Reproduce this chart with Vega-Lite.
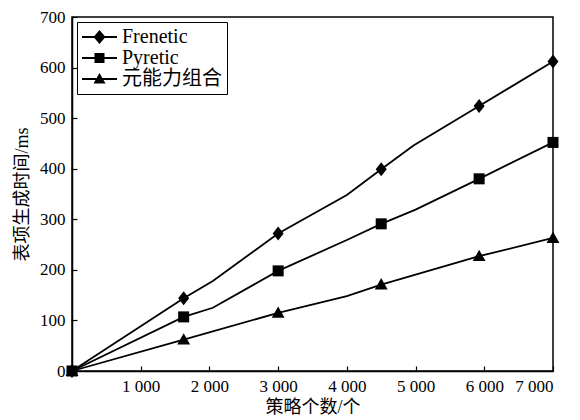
{
  "$schema": "https://vega.github.io/schema/vega-lite/v6.json",
  "width": 481,
  "height": 354,
  "autosize": "none",
  "padding": {"left": 72, "top": 17, "right": 27, "bottom": 49},
  "background": "white",
  "config": {
    "view": {"stroke": "black", "strokeWidth": 1.5},
    "font": "Liberation Serif, Noto Sans CJK SC",
    "axis": {
      "grid": false,
      "domainColor": "black",
      "domainWidth": 1.5,
      "tickColor": "black",
      "tickWidth": 1.2,
      "tickSize": -5,
      "labelColor": "black",
      "labelFont": "Liberation Serif",
      "labelFontSize": 17,
      "titleColor": "black",
      "titleFont": "Liberation Serif, Noto Sans CJK SC",
      "titleFontSize": 18,
      "titleFontWeight": "normal"
    }
  },
  "data": {
    "values": [
      {"s": "Frenetic", "x": 0, "y": 0, "m": true},
      {"s": "Frenetic", "x": 1625, "y": 144, "m": true},
      {"s": "Frenetic", "x": 2050, "y": 178, "m": false},
      {"s": "Frenetic", "x": 3000, "y": 272, "m": true},
      {"s": "Frenetic", "x": 4000, "y": 348, "m": false},
      {"s": "Frenetic", "x": 4500, "y": 399, "m": true},
      {"s": "Frenetic", "x": 4970, "y": 446, "m": false},
      {"s": "Frenetic", "x": 5925, "y": 524, "m": true},
      {"s": "Frenetic", "x": 7000, "y": 612, "m": true},
      {"s": "Pyretic", "x": 0, "y": 0, "m": true},
      {"s": "Pyretic", "x": 1625, "y": 107, "m": true},
      {"s": "Pyretic", "x": 2050, "y": 125, "m": false},
      {"s": "Pyretic", "x": 3000, "y": 198, "m": true},
      {"s": "Pyretic", "x": 4000, "y": 259, "m": false},
      {"s": "Pyretic", "x": 4500, "y": 291, "m": true},
      {"s": "Pyretic", "x": 5000, "y": 319, "m": false},
      {"s": "Pyretic", "x": 5925, "y": 380, "m": true},
      {"s": "Pyretic", "x": 7000, "y": 452, "m": true},
      {"s": "元能力组合", "x": 0, "y": 0, "m": true},
      {"s": "元能力组合", "x": 1625, "y": 62, "m": true},
      {"s": "元能力组合", "x": 3000, "y": 115, "m": true},
      {"s": "元能力组合", "x": 4000, "y": 148, "m": false},
      {"s": "元能力组合", "x": 4500, "y": 171, "m": true},
      {"s": "元能力组合", "x": 5925, "y": 227, "m": true},
      {"s": "元能力组合", "x": 7000, "y": 263, "m": true}
    ]
  },
  "encoding": {
    "x": {
      "field": "x", "type": "quantitative",
      "scale": {"domain": [0, 7000], "nice": false, "zero": true},
      "axis": {
        "title": "策略个数/个",
        "values": [0, 1000, 2000, 3000, 4000, 5000, 6000, 7000],
        "labelExpr": "datum.value == 0 ? '' : replace(format(datum.value, ','), ',', ' ')",
        "labelPadding": 12,
        "titlePadding": 4
      }
    },
    "y": {
      "field": "y", "type": "quantitative",
      "scale": {"domain": [0, 700], "nice": false},
      "axis": {
        "title": "表项生成时间/ms",
        "values": [0, 100, 200, 300, 400, 500, 600, 700],
        "labelPadding": 12,
        "titlePadding": 8
      }
    }
  },
  "layer": [
    {
      "mark": {"type": "line", "color": "black", "strokeWidth": 1.8},
      "encoding": {"detail": {"field": "s"}}
    },
    {
      "transform": [{"filter": "datum.m"}],
      "mark": {"type": "point", "filled": true, "opacity": 1, "color": "black", "size": 150},
      "encoding": {
        "shape": {
          "field": "s", "type": "nominal",
          "scale": {
            "domain": ["Frenetic", "Pyretic", "元能力组合"],
            "range": ["M0,-1.15L0.9,0L0,1.15L-0.9,0Z", "M-0.9,-0.9L0.9,-0.9L0.9,0.9L-0.9,0.9Z", "M0,-1.05L1.05,0.8L-1.05,0.8Z"]
          },
          "legend": null
        }
      }
    },
    {
      "transform": [{"filter": "datum.m"}],
      "mark": {"type": "point", "filled": true, "opacity": 0, "color": "black", "size": 150},
      "encoding": {
        "shape": {
          "field": "s", "type": "nominal",
          "scale": {
            "domain": ["Frenetic", "Pyretic", "元能力组合"],
            "range": [
              "M-1,-0.1L2.5,-0.1L2.5,0.1L-1,0.1Z M0.75,-0.7L1.35,0L0.75,0.7L0.15,0Z",
              "M-1,-0.1L2.5,-0.1L2.5,0.1L-1,0.1Z M0.25,-0.5L1.25,-0.5L1.25,0.5L0.25,0.5Z",
              "M-1,-0.1L2.5,-0.1L2.5,0.1L-1,0.1Z M0.75,-0.6L1.35,0.45L0.15,0.45Z"
            ]
          },
          "legend": {
            "title": null,
            "orient": "top-left",
            "offset": 5,
            "padding": 5,
            "strokeColor": "black",
            "fillColor": "white",
            "symbolSize": 400,
            "symbolFillColor": "black",
            "symbolStrokeColor": "black",
            "symbolStrokeWidth": 0,
            "symbolOpacity": 1,
            "labelFont": "Liberation Serif, Noto Sans CJK SC",
            "labelFontSize": 20,
            "labelColor": "black",
            "labelOffset": 20,
            "rowPadding": 1
          }
        }
      }
    }
  ],
  "resolve": {"scale": {"shape": "independent"}}
}
